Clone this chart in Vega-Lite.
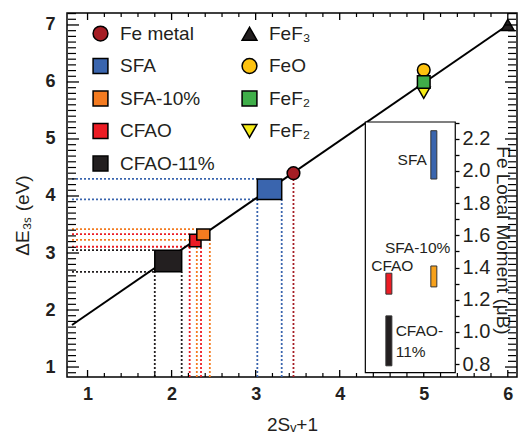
{
  "$schema": "https://vega.github.io/schema/vega-lite/v6.json",
  "width": 450,
  "height": 364,
  "autosize": {"type": "none"},
  "padding": {"left": 67, "top": 13, "right": 1, "bottom": 61},
  "background": "white",
  "config": {
    "view": {"stroke": "black", "strokeWidth": 1.5},
    "font": "Liberation Sans",
    "axis": {
      "grid": false,
      "zindex": 1,
      "domain": false,
      "tickColor": "black",
      "tickWidth": 1.3,
      "labelColor": "#231f20",
      "titleColor": "#231f20",
      "labelOverlap": false,
      "labelFlush": false,
      "titleFontWeight": "normal",
      "labelFont": "Liberation Sans",
      "titleFont": "Liberation Sans"
    }
  },
  "datasets": {
    "boxes": [
      {"sample": "SFA", "x1": 3.02, "x2": 3.31, "y1": 3.94, "y2": 4.30},
      {"sample": "CFAO-11%", "x1": 1.80, "x2": 2.12, "y1": 2.67, "y2": 3.05},
      {"sample": "CFAO", "x1": 2.215, "x2": 2.35, "y1": 3.11, "y2": 3.33},
      {"sample": "SFA-10%", "x1": 2.30, "x2": 2.455, "y1": 3.23, "y2": 3.42}
    ],
    "guides": [
      {"sample": "SFA", "x": 0.815, "x2": 3.02, "y": 3.94, "y2": 3.94},
      {"sample": "SFA", "x": 0.815, "x2": 3.02, "y": 4.30, "y2": 4.30},
      {"sample": "SFA", "x": 3.02, "x2": 3.02, "y": 0.825, "y2": 3.94},
      {"sample": "SFA", "x": 3.31, "x2": 3.31, "y": 0.825, "y2": 3.94},
      {"sample": "CFAO-11%", "x": 0.815, "x2": 1.80, "y": 2.67, "y2": 2.67},
      {"sample": "CFAO-11%", "x": 0.815, "x2": 1.80, "y": 3.05, "y2": 3.05},
      {"sample": "CFAO-11%", "x": 1.80, "x2": 1.80, "y": 0.825, "y2": 2.67},
      {"sample": "CFAO-11%", "x": 2.12, "x2": 2.12, "y": 0.825, "y2": 2.67},
      {"sample": "CFAO", "x": 0.815, "x2": 2.215, "y": 3.11, "y2": 3.11},
      {"sample": "CFAO", "x": 0.815, "x2": 2.215, "y": 3.33, "y2": 3.33},
      {"sample": "CFAO", "x": 2.215, "x2": 2.215, "y": 0.825, "y2": 3.11},
      {"sample": "CFAO", "x": 2.35, "x2": 2.35, "y": 0.825, "y2": 3.11},
      {"sample": "SFA-10%", "x": 0.815, "x2": 2.30, "y": 3.23, "y2": 3.23},
      {"sample": "SFA-10%", "x": 0.815, "x2": 2.30, "y": 3.42, "y2": 3.42},
      {"sample": "SFA-10%", "x": 2.30, "x2": 2.30, "y": 0.825, "y2": 3.23},
      {"sample": "SFA-10%", "x": 2.455, "x2": 2.455, "y": 0.825, "y2": 3.23},
      {"sample": "Fe metal", "x": 3.45, "x2": 3.45, "y": 0.825, "y2": 4.40}
    ],
    "points": [
      {"sample": "Fe metal", "x": 3.45, "y": 4.40},
      {"sample": "FeF3", "x": 6.0, "y": 7.0},
      {"sample": "FeO", "x": 5.0, "y": 6.21},
      {"sample": "FeF2b", "x": 5.0, "y": 5.81},
      {"sample": "FeF2a", "x": 5.0, "y": 6.0}
    ],
    "fit": [
      {"x": 0.815, "y": 1.737},
      {"x": 6.0, "y": 7.0}
    ],
    "xmajor": [
      {"v": 1, "lo": 0.825, "hi": 7.21}, {"v": 2, "lo": 0.825, "hi": 7.21}, {"v": 3, "lo": 0.825, "hi": 7.21},
      {"v": 4, "lo": 0.825, "hi": 7.21}, {"v": 5, "lo": 0.825, "hi": 7.21}, {"v": 6, "lo": 0.825, "hi": 7.21}
    ],
    "xminor": [
      {"v": 1.2, "lo": 0.825, "hi": 7.21}, {"v": 1.4, "lo": 0.825, "hi": 7.21}, {"v": 1.6, "lo": 0.825, "hi": 7.21}, {"v": 1.8, "lo": 0.825, "hi": 7.21},
      {"v": 2.2, "lo": 0.825, "hi": 7.21}, {"v": 2.4, "lo": 0.825, "hi": 7.21}, {"v": 2.6, "lo": 0.825, "hi": 7.21}, {"v": 2.8, "lo": 0.825, "hi": 7.21},
      {"v": 3.2, "lo": 0.825, "hi": 7.21}, {"v": 3.4, "lo": 0.825, "hi": 7.21}, {"v": 3.6, "lo": 0.825, "hi": 7.21}, {"v": 3.8, "lo": 0.825, "hi": 7.21},
      {"v": 4.2, "lo": 0.825, "hi": 7.21}, {"v": 4.4, "lo": 0.825, "hi": 7.21}, {"v": 4.6, "lo": 0.825, "hi": 7.21}, {"v": 4.8, "lo": 0.825, "hi": 7.21},
      {"v": 5.2, "lo": 0.825, "hi": 7.21}, {"v": 5.4, "lo": 0.825, "hi": 7.21}, {"v": 5.6, "lo": 0.825, "hi": 7.21}, {"v": 5.8, "lo": 0.825, "hi": 7.21}
    ],
    "ymajor": [
      {"v": 1, "lo": 0.815, "hi": 6.05}, {"v": 2, "lo": 0.815, "hi": 6.05}, {"v": 3, "lo": 0.815, "hi": 6.05}, {"v": 4, "lo": 0.815, "hi": 6.05},
      {"v": 5, "lo": 0.815, "hi": 6.05}, {"v": 6, "lo": 0.815, "hi": 6.05}, {"v": 7, "lo": 0.815, "hi": 6.05}
    ],
    "yminor": [
      {"v": 0.9, "lo": 0.815, "hi": 6.05},
      {"v": 1.1, "lo": 0.815, "hi": 6.05}, {"v": 1.2, "lo": 0.815, "hi": 6.05}, {"v": 1.3, "lo": 0.815, "hi": 6.05}, {"v": 1.4, "lo": 0.815, "hi": 6.05}, {"v": 1.5, "lo": 0.815, "hi": 6.05}, {"v": 1.6, "lo": 0.815, "hi": 6.05}, {"v": 1.7, "lo": 0.815, "hi": 6.05}, {"v": 1.8, "lo": 0.815, "hi": 6.05}, {"v": 1.9, "lo": 0.815, "hi": 6.05},
      {"v": 2.1, "lo": 0.815, "hi": 6.05}, {"v": 2.2, "lo": 0.815, "hi": 6.05}, {"v": 2.3, "lo": 0.815, "hi": 6.05}, {"v": 2.4, "lo": 0.815, "hi": 6.05}, {"v": 2.5, "lo": 0.815, "hi": 6.05}, {"v": 2.6, "lo": 0.815, "hi": 6.05}, {"v": 2.7, "lo": 0.815, "hi": 6.05}, {"v": 2.8, "lo": 0.815, "hi": 6.05}, {"v": 2.9, "lo": 0.815, "hi": 6.05},
      {"v": 3.1, "lo": 0.815, "hi": 6.05}, {"v": 3.2, "lo": 0.815, "hi": 6.05}, {"v": 3.3, "lo": 0.815, "hi": 6.05}, {"v": 3.4, "lo": 0.815, "hi": 6.05}, {"v": 3.5, "lo": 0.815, "hi": 6.05}, {"v": 3.6, "lo": 0.815, "hi": 6.05}, {"v": 3.7, "lo": 0.815, "hi": 6.05}, {"v": 3.8, "lo": 0.815, "hi": 6.05}, {"v": 3.9, "lo": 0.815, "hi": 6.05},
      {"v": 4.1, "lo": 0.815, "hi": 6.05}, {"v": 4.2, "lo": 0.815, "hi": 6.05}, {"v": 4.3, "lo": 0.815, "hi": 6.05}, {"v": 4.4, "lo": 0.815, "hi": 6.05}, {"v": 4.5, "lo": 0.815, "hi": 6.05}, {"v": 4.6, "lo": 0.815, "hi": 6.05}, {"v": 4.7, "lo": 0.815, "hi": 6.05}, {"v": 4.8, "lo": 0.815, "hi": 6.05}, {"v": 4.9, "lo": 0.815, "hi": 6.05},
      {"v": 5.1, "lo": 0.815, "hi": 6.05}, {"v": 5.2, "lo": 0.815, "hi": 6.05}, {"v": 5.3, "lo": 0.815, "hi": 6.05}, {"v": 5.4, "lo": 0.815, "hi": 6.05}, {"v": 5.5, "lo": 0.815, "hi": 6.05}, {"v": 5.6, "lo": 0.815, "hi": 6.05}, {"v": 5.7, "lo": 0.815, "hi": 6.05}, {"v": 5.8, "lo": 0.815, "hi": 6.05}, {"v": 5.9, "lo": 0.815, "hi": 6.05},
      {"v": 6.1, "lo": 0.815, "hi": 6.05}, {"v": 6.2, "lo": 0.815, "hi": 6.05}, {"v": 6.3, "lo": 0.815, "hi": 6.05}, {"v": 6.4, "lo": 0.815, "hi": 6.05}, {"v": 6.5, "lo": 0.815, "hi": 6.05}, {"v": 6.6, "lo": 0.815, "hi": 6.05}, {"v": 6.7, "lo": 0.815, "hi": 6.05}, {"v": 6.8, "lo": 0.815, "hi": 6.05}, {"v": 6.9, "lo": 0.815, "hi": 6.05},
      {"v": 7.1, "lo": 0.815, "hi": 6.05}, {"v": 7.2, "lo": 0.815, "hi": 6.05}
    ],
    "inset": [
      {"x1": 4.305, "x2": 5.375, "m1": 0.748, "m2": 2.304}
    ],
    "moments": [
      {"sample": "SFA", "x": 5.12, "m1": 1.95, "m2": 2.25},
      {"sample": "SFA-10%", "x": 5.12, "m1": 1.28, "m2": 1.41},
      {"sample": "CFAO", "x": 4.585, "m1": 1.235, "m2": 1.365},
      {"sample": "CFAO-11%", "x": 4.585, "m1": 0.79, "m2": 1.10}
    ],
    "insetLabels": [
      {"text": "SFA", "x": 4.689, "m": 2.07},
      {"text": "SFA-10%", "x": 4.538, "m": 1.52},
      {"text": "CFAO", "x": 4.375, "m": 1.41},
      {"text": "CFAO-", "x": 4.666, "m": 1.006},
      {"text": "11%", "x": 4.666, "m": 0.874}
    ]
  },
  "layer": [
    {
      "layer": [
        {
          "data": {"name": "guides"},
          "mark": {"type": "rule", "strokeDash": [2, 2], "strokeWidth": 1.8},
          "encoding": {
            "x": {
              "field": "x", "type": "quantitative",
              "scale": {"domain": [0.815, 6.05], "nice": false, "zero": false},
              "axis": {
                "orient": "bottom",
                "ticks": false,
                "tickSize": 0,
                "title": "2Sᵥ+1",
                "titleFontSize": 19,
                "titlePadding": 12,
                "values": [1, 2, 3, 4, 5, 6],
                "format": ".0f",
                "labelFontSize": 18,
                "labelFontWeight": "bold",
                "labelPadding": 8
              }
            },
            "x2": {"field": "x2"},
            "y": {
              "field": "y", "type": "quantitative",
              "scale": {"domain": [0.825, 7.21], "nice": false, "zero": false},
              "axis": {
                "orient": "left",
                "ticks": false,
                "tickSize": 0,
                "title": "ΔE₃ₛ (eV)",
                "titleFontSize": 19,
                "titleY": 202,
                "titlePadding": 12,
                "values": [1, 2, 3, 4, 5, 6, 7],
                "format": ".0f",
                "labelFontSize": 18,
                "labelFontWeight": "bold",
                "labelPadding": 12
              }
            },
            "y2": {"field": "y2"},
            "stroke": {
              "field": "sample", "type": "nominal",
              "scale": {
                "domain": ["SFA", "CFAO-11%", "CFAO", "SFA-10%", "Fe metal"],
                "range": ["#3a65ae", "#231f20", "#ec1c24", "#f47b20", "#a51d24"]
              },
              "legend": null
            }
          }
        },
        {
          "data": {"name": "fit"},
          "mark": {"type": "line", "color": "black", "strokeWidth": 2},
          "encoding": {
            "x": {"field": "x", "type": "quantitative", "scale": {"domain": [0.815, 6.05], "nice": false, "zero": false}, "axis": null},
            "y": {"field": "y", "type": "quantitative", "scale": {"domain": [0.825, 7.21], "nice": false, "zero": false}, "axis": null}
          }
        },
        {
          "data": {"name": "boxes"},
          "mark": {"type": "rect", "stroke": "black", "strokeWidth": 1.5},
          "encoding": {
            "x": {"field": "x1", "type": "quantitative", "scale": {"domain": [0.815, 6.05], "nice": false, "zero": false}, "axis": null},
            "x2": {"field": "x2"},
            "y": {"field": "y1", "type": "quantitative", "scale": {"domain": [0.825, 7.21], "nice": false, "zero": false}, "axis": null},
            "y2": {"field": "y2"},
            "fill": {
              "field": "sample", "type": "nominal",
              "scale": {
                "domain": ["SFA", "CFAO-11%", "CFAO", "SFA-10%"],
                "range": ["#3a65ae", "#231f20", "#ec1c24", "#f47b20"]
              },
              "legend": null
            }
          }
        },
        {
          "data": {"name": "points"},
          "mark": {"type": "point", "filled": true, "stroke": "black", "strokeWidth": 1.5, "opacity": 1, "size": 160},
          "encoding": {
            "x": {"field": "x", "type": "quantitative", "scale": {"domain": [0.815, 6.05], "nice": false, "zero": false}, "axis": null},
            "y": {"field": "y", "type": "quantitative", "scale": {"domain": [0.825, 7.21], "nice": false, "zero": false}, "axis": null},
            "color": {
              "field": "sample", "type": "nominal",
              "scale": {
                "domain": ["Fe metal","SFA","SFA-10%","CFAO","CFAO-11%","FeF3","FeO","FeF2a","FeF2b"],
                "range": ["#a51d24","#3a65ae","#f47b20","#ec1c24","#231f20","#231f20","#fdc20f","#3fae49","#f5eb17"]
              },
              "legend": {
                "orient": "none", "legendX": 24, "legendY": 11,
                "columns": 2, "title": null,
                "labelFontSize": 19, "labelFont": "Liberation Sans", "labelColor": "#231f20",
                "symbolSize": 220, "symbolStrokeColor": "black", "symbolStrokeWidth": 1.5,
                "rowPadding": 11.5, "columnPadding": 24, "labelOffset": 10, "padding": 0,
                "labelExpr": "datum.label == 'FeF3' ? 'FeF₃' : (datum.label == 'FeF2a' || datum.label == 'FeF2b') ? 'FeF₂' : datum.label"
              }
            },
            "shape": {
              "field": "sample", "type": "nominal",
              "scale": {
                "domain": ["Fe metal","SFA","SFA-10%","CFAO","CFAO-11%","FeF3","FeO","FeF2a","FeF2b"],
                "range": ["circle","square","square","square","square","triangle-up","circle","square","triangle-down"]
              },
              "legend": {
                "orient": "none", "legendX": 24, "legendY": 11,
                "columns": 2, "title": null,
                "labelFontSize": 19, "labelFont": "Liberation Sans", "labelColor": "#231f20",
                "symbolSize": 220, "symbolStrokeColor": "black", "symbolStrokeWidth": 1.5,
                "rowPadding": 11.5, "columnPadding": 24, "labelOffset": 10, "padding": 0,
                "labelExpr": "datum.label == 'FeF3' ? 'FeF₃' : (datum.label == 'FeF2a' || datum.label == 'FeF2b') ? 'FeF₂' : datum.label"
              }
            }
          }
        },
        {
          "data": {"name": "xmajor"},
          "mark": {"type": "tick", "orient": "vertical", "size": 14, "thickness": 1.3, "color": "black", "opacity": 1, "clip": true},
          "encoding": {
            "x": {"field": "v", "type": "quantitative", "scale": {"domain": [0.815, 6.05], "nice": false, "zero": false}, "axis": null},
            "y": {"field": "lo", "type": "quantitative", "scale": {"domain": [0.825, 7.21], "nice": false, "zero": false}, "axis": null}
          }
        },
        {
          "data": {"name": "xmajor"},
          "mark": {"type": "tick", "orient": "vertical", "size": 14, "thickness": 1.3, "color": "black", "opacity": 1, "clip": true},
          "encoding": {
            "x": {"field": "v", "type": "quantitative", "scale": {"domain": [0.815, 6.05], "nice": false, "zero": false}, "axis": null},
            "y": {"field": "hi", "type": "quantitative", "scale": {"domain": [0.825, 7.21], "nice": false, "zero": false}, "axis": null}
          }
        },
        {
          "data": {"name": "xminor"},
          "mark": {"type": "tick", "orient": "vertical", "size": 8, "thickness": 1.2, "color": "black", "opacity": 1, "clip": true},
          "encoding": {
            "x": {"field": "v", "type": "quantitative", "scale": {"domain": [0.815, 6.05], "nice": false, "zero": false}, "axis": null},
            "y": {"field": "lo", "type": "quantitative", "scale": {"domain": [0.825, 7.21], "nice": false, "zero": false}, "axis": null}
          }
        },
        {
          "data": {"name": "xminor"},
          "mark": {"type": "tick", "orient": "vertical", "size": 8, "thickness": 1.2, "color": "black", "opacity": 1, "clip": true},
          "encoding": {
            "x": {"field": "v", "type": "quantitative", "scale": {"domain": [0.815, 6.05], "nice": false, "zero": false}, "axis": null},
            "y": {"field": "hi", "type": "quantitative", "scale": {"domain": [0.825, 7.21], "nice": false, "zero": false}, "axis": null}
          }
        },
        {
          "data": {"name": "ymajor"},
          "mark": {"type": "tick", "orient": "horizontal", "size": 14, "thickness": 1.3, "color": "black", "opacity": 1, "clip": true},
          "encoding": {
            "x": {"field": "lo", "type": "quantitative", "scale": {"domain": [0.815, 6.05], "nice": false, "zero": false}, "axis": null},
            "y": {"field": "v", "type": "quantitative", "scale": {"domain": [0.825, 7.21], "nice": false, "zero": false}, "axis": null}
          }
        },
        {
          "data": {"name": "ymajor"},
          "mark": {"type": "tick", "orient": "horizontal", "size": 14, "thickness": 1.3, "color": "black", "opacity": 1, "clip": true},
          "encoding": {
            "x": {"field": "hi", "type": "quantitative", "scale": {"domain": [0.815, 6.05], "nice": false, "zero": false}, "axis": null},
            "y": {"field": "v", "type": "quantitative", "scale": {"domain": [0.825, 7.21], "nice": false, "zero": false}, "axis": null}
          }
        },
        {
          "data": {"name": "yminor"},
          "mark": {"type": "tick", "orient": "horizontal", "size": 8, "thickness": 1.2, "color": "black", "opacity": 1, "clip": true},
          "encoding": {
            "x": {"field": "lo", "type": "quantitative", "scale": {"domain": [0.815, 6.05], "nice": false, "zero": false}, "axis": null},
            "y": {"field": "v", "type": "quantitative", "scale": {"domain": [0.825, 7.21], "nice": false, "zero": false}, "axis": null}
          }
        },
        {
          "data": {"name": "yminor"},
          "mark": {"type": "tick", "orient": "horizontal", "size": 8, "thickness": 1.2, "color": "black", "opacity": 1, "clip": true},
          "encoding": {
            "x": {"field": "hi", "type": "quantitative", "scale": {"domain": [0.815, 6.05], "nice": false, "zero": false}, "axis": null},
            "y": {"field": "v", "type": "quantitative", "scale": {"domain": [0.825, 7.21], "nice": false, "zero": false}, "axis": null}
          }
        }
      ],
      "resolve": {"axis": {"x": "independent", "y": "independent"}}
    },
    {
      "layer": [
        {
          "data": {"name": "inset"},
          "mark": {"type": "rect", "fill": "white", "stroke": "black", "strokeWidth": 1.2},
          "encoding": {
            "x": {"field": "x1", "type": "quantitative", "scale": {"domain": [0.815, 6.05], "nice": false, "zero": false}, "axis": null},
            "x2": {"field": "x2"},
            "y": {
              "field": "m1", "type": "quantitative",
              "scale": {"domain": [0.7205, 2.981], "nice": false, "zero": false},
              "axis": {
                "orient": "right",
                "offset": -62,
                "ticks": true,
                "tickSize": 4,
                "title": "Fe Local Moment (μB)",
                "titleFontSize": 19,
                "titleY": 227,
                "titlePadding": 3,
                "values": [0.8,0.9,1,1.1,1.2,1.3,1.4,1.5,1.6,1.7,1.8,1.9,2,2.1,2.2,2.3],
                "labelExpr": "abs(datum.value * 5 - round(datum.value * 5)) < 0.01 && datum.value < 2.25 ? format(datum.value, '.1f') : ''",
                "labelFontSize": 20,
                "labelFontWeight": "normal",
                "labelPadding": 3
              }
            },
            "y2": {"field": "m2"}
          }
        },
        {
          "data": {"name": "moments"},
          "mark": {"type": "bar", "width": 6, "stroke": "#333333", "strokeWidth": 1},
          "encoding": {
            "x": {"field": "x", "type": "quantitative", "scale": {"domain": [0.815, 6.05], "nice": false, "zero": false}, "axis": null},
            "y": {
              "field": "m1", "type": "quantitative",
              "scale": {"domain": [0.7205, 2.981], "nice": false, "zero": false},
              "axis": {
                "orient": "left",
                "offset": -304,
                "ticks": true,
                "tickSize": 4,
                "title": null,
                "labels": false,
                "values": [0.8,1,1.2,1.4,1.6,1.8,2,2.2]
              }
            },
            "y2": {"field": "m2"},
            "fill": {
              "field": "sample", "type": "nominal",
              "scale": {"domain": ["SFA","SFA-10%","CFAO","CFAO-11%"], "range": ["#3a65ae","#f7a11b","#ec1c24","#231f20"]},
              "legend": null
            }
          }
        },
        {
          "data": {"name": "insetLabels"},
          "mark": {"type": "text", "align": "left", "baseline": "middle", "fontSize": 15.5, "font": "Liberation Sans", "color": "#231f20"},
          "encoding": {
            "x": {"field": "x", "type": "quantitative", "scale": {"domain": [0.815, 6.05], "nice": false, "zero": false}, "axis": null},
            "y": {"field": "m", "type": "quantitative", "scale": {"domain": [0.7205, 2.981], "nice": false, "zero": false}, "axis": null},
            "text": {"field": "text"}
          }
        }
      ],
      "resolve": {"axis": {"y": "independent"}}
    }
  ],
  "resolve": {
    "scale": {"y": "independent", "fill": "independent"},
    "axis": {"x": "independent", "y": "independent"}
  }
}
